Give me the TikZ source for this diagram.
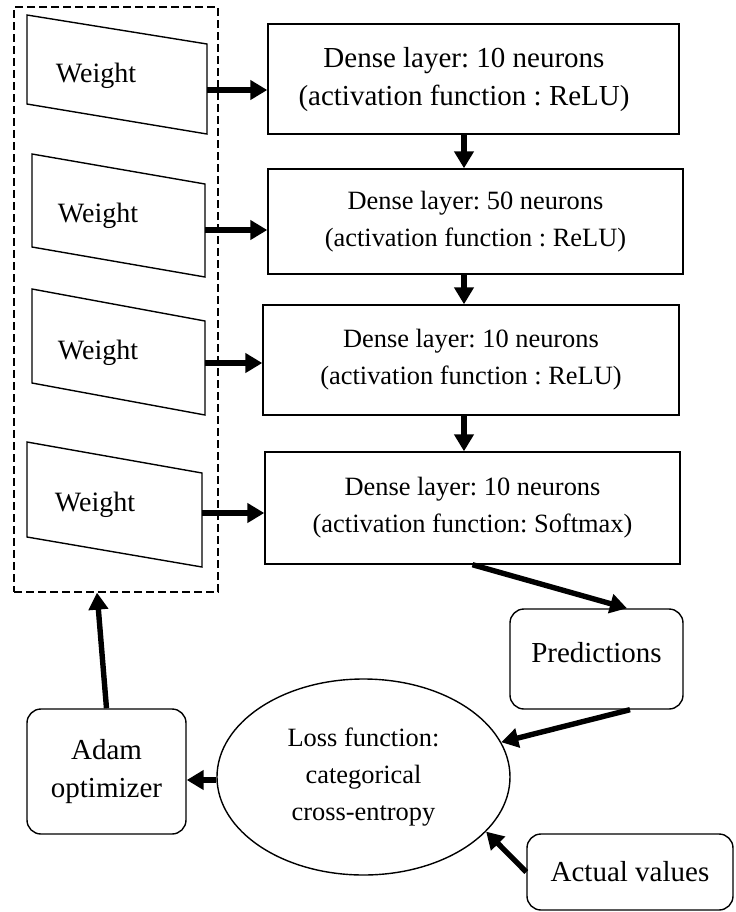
\documentclass[tikz,border=0pt]{standalone}
\usepackage{fontspec}
\setmainfont{Liberation Serif}
\frenchspacing
\usetikzlibrary{arrows.meta,shapes.geometric}
\begin{document}
\begin{tikzpicture}[x=0.5pt,y=-0.5pt,
  box/.style={draw,line width=0.7pt,inner sep=0pt,align=center},
  dense/.style={box,rectangle},
  rbox/.style={box,rounded corners=7pt},
  wshape/.style={draw,line width=0.7pt,line join=miter},
  big/.style={font=\fontsize{14.5}{19}\selectfont},
  wfont/.style={font=\fontsize{14}{18}\selectfont},
  small/.style={font=\fontsize{13.2}{18.5}\selectfont},
  arr/.style={line width=2.7pt,-{Triangle[length=8.5pt,width=9.5pt]}},
]
\useasboundingbox (0,0) rectangle (735,912);

% dashed group of weights
\node[draw,dash pattern=on 3.8pt off 2.2pt,line width=0.6pt,minimum width=102pt,minimum height=292.5pt,inner sep=0pt] (wb) at (116,299.5) {};

% weight parallelograms
\draw[wshape] (27,15) -- (207,44) -- (207,134) -- (27,104) -- cycle;
\draw[wshape] (32,154) -- (205,184) -- (205,277) -- (32,247) -- cycle;
\draw[wshape] (32,289) -- (205,321) -- (205,415) -- (32,383) -- cycle;
\draw[wshape] (27,442) -- (202,473) -- (202,567) -- (27,537) -- cycle;
\node[wfont] (w1) at (96,76) {Weight};
\node[wfont] (w2) at (98,216) {Weight};
\node[wfont] (w3) at (98,353) {Weight};
\node[wfont] (w4) at (95,505) {Weight};
\coordinate (w1r) at (207,90);
\coordinate (w2r) at (205,230);
\coordinate (w3r) at (205,363);
\coordinate (w4r) at (202,513);

% dense layers
\node[dense,big,minimum width=205.5pt,minimum height=55pt] (d1) at (473.5,79)
  {\begin{tabular}{@{}c@{}}Dense layer: 10 neurons\\(activation function : ReLU)\end{tabular}\hspace{9.5pt}};
\node[dense,small,minimum width=207.5pt,minimum height=52.5pt] (d2) at (475.5,221.5)
  {Dense layer: 50 neurons\\(activation function : ReLU)};
\node[dense,small,minimum width=208pt,minimum height=55pt] (d3) at (471,360)
  {Dense layer: 10 neurons\\(activation function : ReLU)};
\node[dense,small,minimum width=207.5pt,minimum height=56pt] (d4) at (472.5,508)
  {Dense layer: 10 neurons\\(activation function: Softmax)};

% lower nodes
\node[rbox,big,minimum width=86.5pt,minimum height=50pt,text depth=7pt] (pred) at (596.5,659) {Predictions};
\node[box,ellipse,small,minimum width=146.5pt,minimum height=98pt] (loss) at (363.5,777)
  {Loss function:\\categorical\\cross-entropy};
\node[rbox,big,minimum width=79.5pt,minimum height=62.5pt] (adam) at (106.5,771.5) {Adam\\optimizer};
\node[rbox,big,minimum width=103pt,minimum height=38pt] (act) at (630,872) {Actual values};

% connectors
\draw[arr] (w1r) -- (w1r -| d1.west);
\draw[arr] (w2r) -- (w2r -| d2.west);
\draw[arr] (w3r) -- (w3r -| d3.west);
\draw[arr] (w4r) -- (w4r -| d4.west);

\coordinate (ax) at (464,0);
\draw[arr] (d1.south -| ax) -- (d2.north -| ax);
\draw[arr] (d2.south -| ax) -- (d3.north -| ax);
\draw[arr] (d3.south -| ax) -- (d4.north -| ax);

\draw[arr] (d4.south) -- ([xshift=15.25pt]pred.north);
\draw[arr] ([xshift=16.75pt]pred.south) -- (loss);
\coordinate (lw) at ([yshift=-1.5pt]loss.west);
\draw[arr] (lw) -- (lw -| adam.east);
\draw[arr] (adam.north) -- ([xshift=-9.5pt]wb.south);
\draw[arr] (act.west) -- (loss.-24);
\end{tikzpicture}
\end{document}
